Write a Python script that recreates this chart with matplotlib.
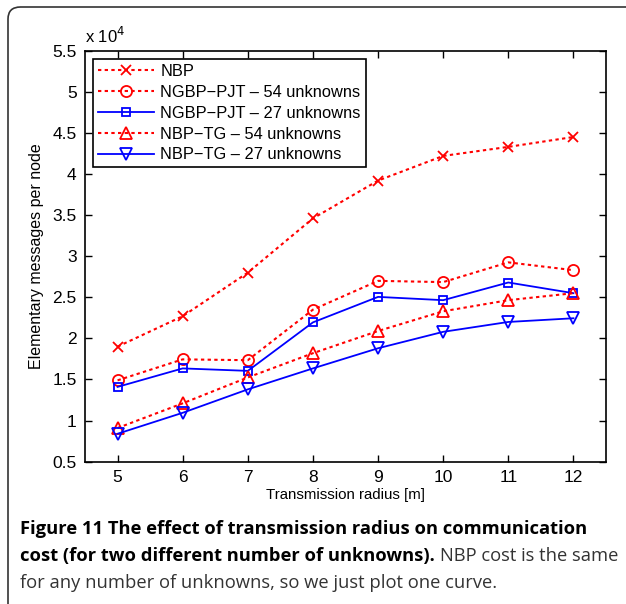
import numpy as np
import matplotlib
matplotlib.use('Agg')
from matplotlib import pyplot as plt
from matplotlib.patches import FancyBboxPatch

radius = [5, 6, 7, 8, 9, 10, 11, 12]
nbp = [1.90, 2.27, 2.80, 3.46, 3.92, 4.22, 4.33, 4.45]
ngbp_pjt_54 = [1.49, 1.745, 1.735, 2.35, 2.70, 2.685, 2.925, 2.83]
ngbp_pjt_27 = [1.41, 1.635, 1.605, 2.195, 2.505, 2.465, 2.68, 2.55]
nbp_tg_54 = [0.91, 1.21, 1.525, 1.82, 2.09, 2.33, 2.465, 2.55]
nbp_tg_27 = [0.84, 1.095, 1.38, 1.635, 1.88, 2.08, 2.20, 2.245]

labels = ['NBP', 'NGBP\u2212PJT \u2013 54 unknowns', 'NGBP\u2212PJT \u2013 27 unknowns',
          'NBP\u2212TG \u2013 54 unknowns', 'NBP\u2212TG \u2013 27 unknowns']

plt.rcParams['font.family'] = ['Liberation Sans', 'DejaVu Sans']

fig = plt.figure(figsize=(6.26, 6.04), dpi=100)

# outer frame of the figure box (only top/left visible)
frame = FancyBboxPatch((8 / 626, -0.2), 1.2, 1.2 - 7 / 604,
                       boxstyle='round,pad=0,rounding_size=0.02',
                       transform=fig.transFigure, fill=False,
                       edgecolor='#333333', linewidth=1.2, clip_on=False)
fig.patches.append(frame)

ax = fig.add_axes([85 / 626, 1 - 461.7 / 604, (606 - 85) / 626, (461.7 - 50.7) / 604])

red = '#ff0000'
blue = '#0000ff'
dot = (0, (1.6, 1.6))
ax.plot(radius, nbp, ls=dot, color=red, marker='x', ms=7, mew=1.3, lw=1.5, label=labels[0])
ax.plot(radius, ngbp_pjt_54, ls=dot, color=red, marker='o', ms=8, mfc='none', mew=1.3, lw=1.5, label=labels[1])
ax.plot(radius, ngbp_pjt_27, '-', color=blue, marker='s', ms=5.5, mfc='none', mew=1.3, lw=1.3, label=labels[2])
ax.plot(radius, nbp_tg_54, ls=dot, color=red, marker='^', ms=8.5, mfc='none', mew=1.3, lw=1.5, label=labels[3])
ax.plot(radius, nbp_tg_27, '-', color=blue, marker='v', ms=8.5, mfc='none', mew=1.3, lw=1.3, label=labels[4])

ax.set_xlim(4.5, 12.5)
ax.set_ylim(0.5, 5.5)
ax.set_xticks(radius)
ax.set_yticks(np.arange(0.5, 5.51, 0.5))
ax.set_yticklabels(['0.5', '1', '1.5', '2', '2.5', '3', '3.5', '4', '4.5', '5', '5.5'])
ax.tick_params(direction='in', length=5, width=1, top=True, right=True, labelsize=12.5, pad=6)
for s in ax.spines.values():
    s.set_linewidth(1.2)

ax.set_xlabel('Transmission radius [m]', fontsize=10.8, labelpad=2)
ax.set_ylabel('Elementary messages per node', fontsize=11.5, labelpad=6)
ax.text(0.0, 1.012, r'x 10$^4$', transform=ax.transAxes, fontsize=12, va='bottom', ha='left')

leg = ax.legend(loc='upper left', fontsize=11.8, fancybox=False, edgecolor='black',
                framealpha=1, handlelength=3.4, borderpad=0.3, labelspacing=0.36,
                borderaxespad=0.5, handletextpad=0.4)
leg.get_frame().set_linewidth(1.2)

cap_size = 13.2
fig.text(20 / 626, 1 - 529 / 604, 'Figure 11 The effect of transmission radius on communication',
         fontsize=cap_size, fontweight='bold', family='Open Sans', va='center', ha='left')
t = fig.text(20 / 626, 1 - 556 / 604, 'cost (for two different number of unknowns).',
             fontsize=cap_size, fontweight='bold', family='Open Sans', va='center', ha='left')
fig.canvas.draw()
bb = t.get_window_extent()
fig.text(bb.x1 / 626 + 0.008, 1 - 556 / 604, 'NBP cost is the same',
         fontsize=cap_size, family='Open Sans', color='#333333', va='center', ha='left')
fig.text(20 / 626, 1 - 583 / 604, 'for any number of unknowns, so we just plot one curve.',
         fontsize=cap_size, family='Open Sans', color='#333333', va='center', ha='left')

fig.savefig('out.png', dpi=100)
